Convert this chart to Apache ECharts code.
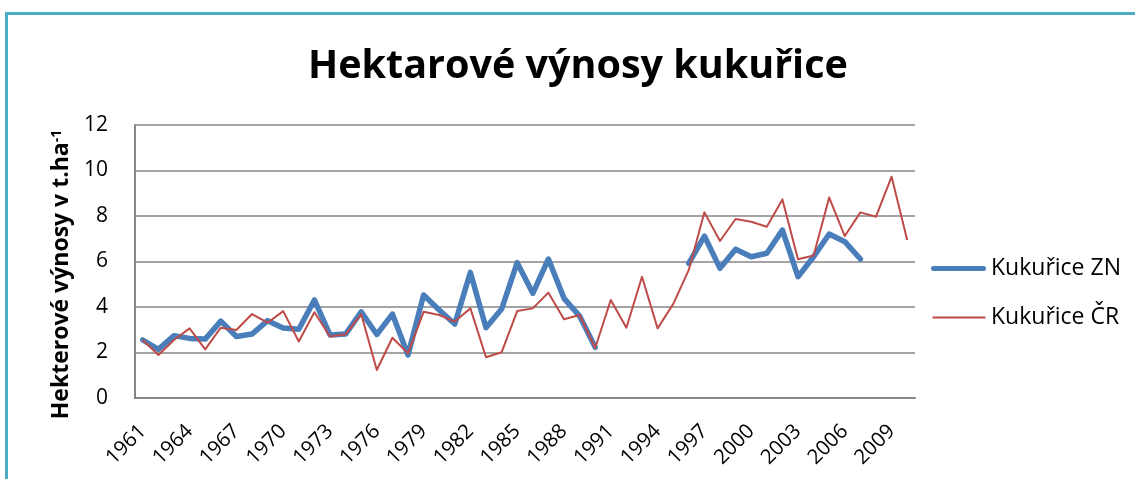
<!DOCTYPE html>
<html>
<head>
<meta charset="utf-8">
<script src="https://cdn.jsdelivr.net/npm/echarts@6/dist/echarts.min.js"></script>
<style>
html,body{margin:0;padding:0;background:#fff;}
#frame{position:absolute;left:5px;top:12px;width:1200px;height:600px;border:3px solid #4bacc6;box-sizing:border-box;}
#chart{position:absolute;left:0;top:0;width:1135px;height:479px;}
</style>
</head>
<body>
<div id="frame"></div>
<div id="chart"></div>
<script>
const years = ['1961','1962','1963','1964','1965','1966','1967','1968','1969','1970',
'1971','1972','1973','1974','1975','1976','1977','1978','1979','1980',
'1981','1982','1983','1984','1985','1986','1987','1988','1989','1990',
'1991','1992','1993','1994','1995','1996','1997','1998','1999','2000',
'2001','2002','2003','2004','2005','2006','2007','2008','2009','2010'];
const kukuriceZN = [2.55,2.14,2.74,2.62,2.59,3.38,2.70,2.81,3.40,3.08,
3.02,4.31,2.77,2.81,3.79,2.79,3.69,1.89,4.53,3.87,
3.25,5.52,3.09,3.91,5.95,4.60,6.11,4.38,3.60,2.23,
null,null,null,null,null,5.92,7.12,5.70,6.54,6.21,
6.36,7.38,5.33,6.21,7.21,6.87,6.11,null,null,null];
const kukuriceCR = [2.55,1.89,2.55,3.06,2.14,3.09,2.99,3.69,3.31,3.82,
2.48,3.77,2.70,2.80,3.69,1.23,2.65,1.96,3.79,3.65,
3.36,3.94,1.79,2.01,3.82,3.94,4.63,3.46,3.65,2.20,
4.31,3.09,5.33,3.06,4.13,5.63,8.16,6.90,7.87,7.75,
7.53,8.73,6.10,6.26,8.81,7.12,8.16,7.97,9.73,6.95];
const seriesNames = ['Kukuřice ZN','Kukuřice ČR'];
const titleText = 'Hektarové výnosy kukuřice';
const yAxisTitle = 'Hekterové výnosy v t.ha';
const yAxisSup = '-1';

const FONT = 'Open Sans';
const BLUE = '#4a7ebb', RED = '#be4b48';
const iconBlue = 'path://M0,0L0.01,0L0,0.01Z M2.5,4.5L52.5,4.5A2.5,2.5,0,0,1,52.5,9.5L2.5,9.5A2.5,2.5,0,0,1,2.5,4.5Z M0,14L0.01,14L0,13.99Z';
const iconRed = 'path://M0,0L0.01,0L0,0.01Z M1,6L54,6L54,8L1,8Z M0,14L0.01,14L0,13.99Z';
const chart = echarts.init(document.getElementById('chart'), null, {renderer:'canvas'});
chart.setOption({
  animation:false,
  backgroundColor:'transparent',
  title:{
    text:titleText, left:303, top:42,
    textStyle:{fontFamily:FONT, fontWeight:'bold', fontSize:39.5, color:'#000'}
  },
  legend:{
    orient:'vertical', left:926, top:250,
    itemWidth:55, itemHeight:14, itemGap:22,
    textStyle:{fontFamily:FONT, fontSize:23, lineHeight:27, color:'#000'},
    data:[{name:seriesNames[0], icon:iconBlue, itemStyle:{color:BLUE}},
          {name:seriesNames[1], icon:iconRed, itemStyle:{color:RED}}]
  },
  grid:{left:135, top:125, width:780, height:273},
  xAxis:{
    type:'category', data:years, boundaryGap:true,
    axisLine:{lineStyle:{color:'#868686', width:2}},
    axisTick:{show:false},
    axisLabel:{interval:2, rotate:45, fontFamily:FONT, fontSize:20.5, color:'#000', margin:30}
  },
  yAxis:{
    type:'value', min:0, max:12, interval:2,
    name:'{a|'+yAxisTitle+'}{s|'+yAxisSup+'}',
    nameLocation:'middle', nameRotate:90, nameGap:60,
    nameTextStyle:{
      padding:[0,26,0,0],
      rich:{
        a:{fontFamily:FONT, fontWeight:'bold', fontSize:23, color:'#000'},
        s:{fontFamily:FONT, fontWeight:'bold', fontSize:14, color:'#000', verticalAlign:'top'}
      }
    },
    axisLine:{show:true, lineStyle:{color:'#868686', width:2}},
    axisTick:{show:false},
    splitLine:{lineStyle:{color:'#868686', width:1.5}},
    axisLabel:{fontFamily:FONT, fontSize:21, color:'#000', margin:27}
  },
  series:[
    {name:seriesNames[0], type:'line', data:kukuriceZN, symbol:'none', connectNulls:false,
     lineStyle:{color:BLUE, width:5.5, cap:'round', join:'round'}, itemStyle:{color:BLUE}, z:3},
    {name:seriesNames[1], type:'line', data:kukuriceCR, symbol:'none',
     lineStyle:{color:RED, width:2, join:'round'}, itemStyle:{color:RED}, z:4}
  ]
});
</script>
</body>
</html>
